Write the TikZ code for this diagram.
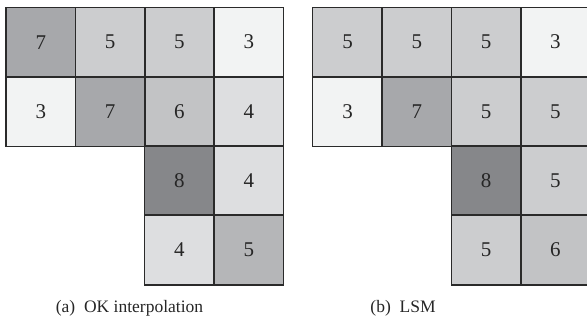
\documentclass[tikz,border=0pt]{standalone}
\usepackage{fontspec}
\setmainfont{Liberation Serif}
\definecolor{g3}{HTML}{F2F3F3}
\definecolor{g4}{HTML}{DDDEE0}
\definecolor{g5}{HTML}{CCCDCF}
\definecolor{g5d}{HTML}{B5B6B8}
\definecolor{g6}{HTML}{C2C3C5}
\definecolor{g7}{HTML}{A7A8AB}
\definecolor{g8}{HTML}{86878A}
\definecolor{edge}{HTML}{2A2A2A}
\tikzset{
  cell/.style={minimum size=69.3pt, inner sep=0pt, anchor=north west,
    font=\fontsize{21}{21}\selectfont, text=black!85},
  border/.style={draw=edge, line width=1.4pt, line join=miter},
  caption/.style={font=\fontsize{17.5}{18}\selectfont, text=black!85}
}
\begin{document}
\begin{tikzpicture}[x=1pt,y=-1pt]
\useasboundingbox (0,0) rectangle (587,328);
\clip (0,0) rectangle (587,328);
\def\ay{7.3}\def\c{69.3}
% ---- (a) OK interpolation: filled cells ----
\def\ax{6}
\node[cell, fill=g7] (a11) at (\ax+0*\c,\ay+0*\c) {7};
\node[cell, fill=g5] (a12) at (\ax+1*\c,\ay+0*\c) {5};
\node[cell, fill=g5] (a13) at (\ax+2*\c,\ay+0*\c) {5};
\node[cell, fill=g3] (a14) at (\ax+3*\c,\ay+0*\c) {3};
\node[cell, fill=g3] (a21) at (\ax+0*\c,\ay+1*\c) {3};
\node[cell, fill=g7] (a22) at (\ax+1*\c,\ay+1*\c) {7};
\node[cell, fill=g6] (a23) at (\ax+2*\c,\ay+1*\c) {6};
\node[cell, fill=g4] (a24) at (\ax+3*\c,\ay+1*\c) {4};
\node[cell, fill=g8] (a33) at (\ax+2*\c,\ay+2*\c) {8};
\node[cell, fill=g4] (a34) at (\ax+3*\c,\ay+2*\c) {4};
\node[cell, fill=g4] (a43) at (\ax+2*\c,\ay+3*\c) {4};
\node[cell, fill=g5d] (a44) at (\ax+3*\c,\ay+3*\c) {5};
\node[caption] (capa) at (129.5,308) {(a)\ \ OK interpolation};
% ---- (b) LSM: filled cells ----
\def\bx{312.7}
\node[cell, fill=g5] (b11) at (\bx+0*\c,\ay+0*\c) {5};
\node[cell, fill=g5] (b12) at (\bx+1*\c,\ay+0*\c) {5};
\node[cell, fill=g5] (b13) at (\bx+2*\c,\ay+0*\c) {5};
\node[cell, fill=g3] (b14) at (\bx+3*\c,\ay+0*\c) {3};
\node[cell, fill=g3] (b21) at (\bx+0*\c,\ay+1*\c) {3};
\node[cell, fill=g7] (b22) at (\bx+1*\c,\ay+1*\c) {7};
\node[cell, fill=g5] (b23) at (\bx+2*\c,\ay+1*\c) {5};
\node[cell, fill=g5] (b24) at (\bx+3*\c,\ay+1*\c) {5};
\node[cell, fill=g8] (b33) at (\bx+2*\c,\ay+2*\c) {8};
\node[cell, fill=g5] (b34) at (\bx+3*\c,\ay+2*\c) {5};
\node[cell, fill=g5] (b43) at (\bx+2*\c,\ay+3*\c) {5};
\node[cell, fill=g6] (b44) at (\bx+3*\c,\ay+3*\c) {6};
\node[caption] (capb) at (403,308) {(b)\ \ LSM};
% ---- cell borders, drawn over all fills ----
\foreach \n in {a11,a12,a13,a14,a21,a22,a23,a24,a33,a34,a43,a44,
                b11,b12,b13,b14,b21,b22,b23,b24,b33,b34,b43,b44}
  \draw[border] (\n.north west) rectangle (\n.south east);
\end{tikzpicture}
\end{document}
